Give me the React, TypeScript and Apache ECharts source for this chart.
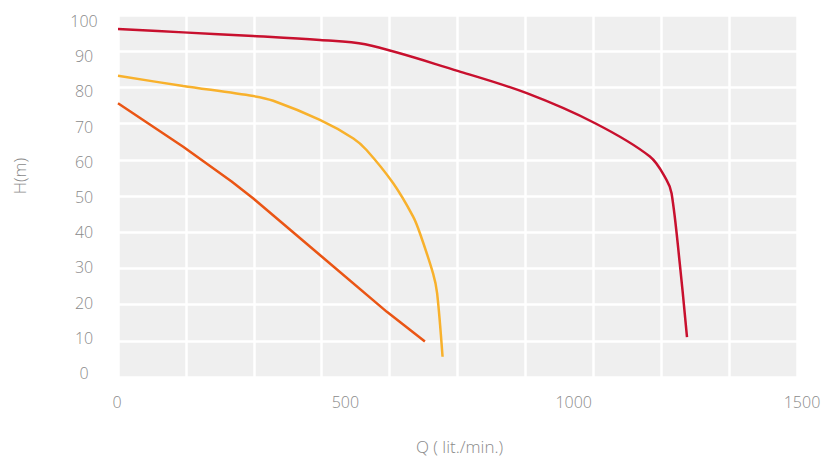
import React, { useEffect, useRef } from "react";
import * as echarts from "echarts";

const xTickLabels = [0, 500, 1000, 1500];
const yTickLabels = [0, 10, 20, 30, 40, 50, 60, 70, 80, 90, 100];

const redQ = [0, 144, 299, 446, 546, 752, 903, 1054, 1175, 1212, 1223, 1241, 1257];
const redH = [96.1, 95.2, 94.2, 93.1, 91.9, 84.5, 78.4, 70.1, 60.9, 54.4, 50.7, 31.4, 11];

const yelQ = [0, 144, 299, 343, 446, 520, 549, 608, 652, 667, 696, 705, 717];
const yelH = [83.2, 80.4, 77.6, 76.3, 71, 65.9, 62.7, 53.5, 44.3, 39.7, 28.6, 23.1, 5.6];

const orgQ = [0, 144, 251, 299, 446, 594, 678];
const orgH = [75.6, 63.6, 54, 49.3, 33.7, 18, 9.8];

const pairs = (q: number[], h: number[]) => q.map((v, i) => [v, h[i]]);

const FONT = "Open Sans";
const TXT = "#8a8a8a";

export default function App() {
  const ref = useRef<HTMLDivElement>(null);
  useEffect(() => {
    if (!ref.current) return;
    const chart = echarts.init(ref.current, null, { renderer: "svg" });
    const labelStyle = { color: TXT, fontSize: 16, fontFamily: FONT, fontWeight: 300 as any };
    chart.setOption({
      animation: false,
      grid: [
        { left: 118, right: 27, top: 15, bottom: 83, show: true, backgroundColor: "#efefef", borderWidth: 0 },
        { left: 117, right: 22, top: 21, bottom: 82, show: false },
      ],
      xAxis: [
        {
          type: "value", gridIndex: 0, min: 0, max: 1500, interval: 150,
          axisLine: { show: false }, axisTick: { show: false }, axisLabel: { show: false },
          splitLine: { show: true, lineStyle: { color: "#ffffff", width: 2.5 } },
        },
        {
          type: "value", gridIndex: 1, min: xTickLabels[0], max: xTickLabels[xTickLabels.length - 1], interval: 500,
          axisLine: { show: false }, axisTick: { show: false }, splitLine: { show: false },
          axisLabel: { ...labelStyle, margin: 21, formatter: (v: number) => String(v) },
          name: "Q ( lit./min.)", nameLocation: "middle", nameGap: 65,
          nameTextStyle: { ...labelStyle, fontSize: 17 },
        },
      ],
      yAxis: [
        {
          type: "value", gridIndex: 0, min: 0, max: 100, interval: 10,
          axisLine: { show: false }, axisTick: { show: false }, axisLabel: { show: false },
          splitLine: { show: true, lineStyle: { color: "#ffffff", width: 2.5 } },
        },
        {
          type: "value", gridIndex: 1, min: yTickLabels[0], max: yTickLabels[yTickLabels.length - 1], interval: 10,
          axisLine: { show: false }, axisTick: { show: false }, splitLine: { show: false },
          axisLabel: { ...labelStyle, align: "center", margin: 33, formatter: (v: number) => String(v) },
        },
      ],
      graphic: [
        {
          type: "text", x: 19, y: 176, rotation: Math.PI / 2,
          style: { text: "H(m)", align: "center", verticalAlign: "middle", fontSize: 17, fontFamily: FONT, fontWeight: 300, fill: TXT },
        },
      ],
      series: [
        {
          name: "A", type: "line", xAxisIndex: 0, yAxisIndex: 0, data: pairs(redQ, redH),
          smooth: 0.35, symbol: "none", lineStyle: { color: "#c8102e", width: 2.5 },
        },
        {
          name: "B", type: "line", xAxisIndex: 0, yAxisIndex: 0, data: pairs(yelQ, yelH),
          smooth: 0.3, symbol: "none", lineStyle: { color: "#f8b12c", width: 2.5 },
        },
        {
          name: "C", type: "line", xAxisIndex: 0, yAxisIndex: 0, data: pairs(orgQ, orgH),
          smooth: false, symbol: "none", lineStyle: { color: "#ea5514", width: 2.5 },
        },
      ],
    });
    return () => chart.dispose();
  }, []);
  return (
    <div
      ref={ref}
      style={{ position: "fixed", left: 0, top: 0, width: 824, height: 460, background: "#ffffff" }}
    />
  );
}
